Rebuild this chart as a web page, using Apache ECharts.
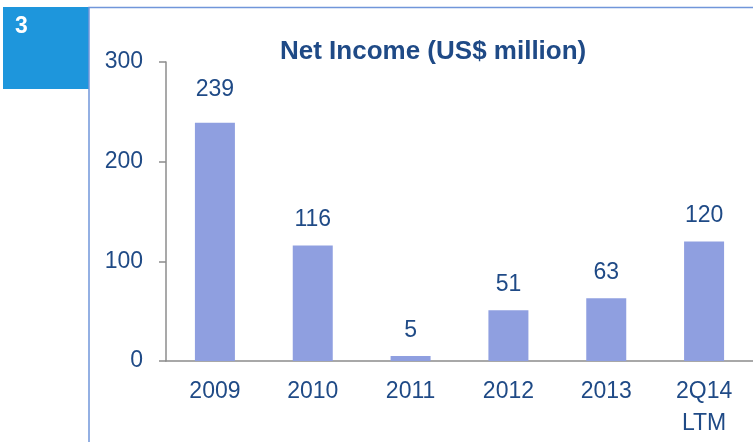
<!DOCTYPE html>
<html>
<head>
<meta charset="utf-8">
<script src="https://cdn.jsdelivr.net/npm/echarts@6/dist/echarts.min.js"></script>
<style>
  html, body { margin: 0; padding: 0; background: #fff; }
  #chart { width: 753px; height: 442px; }
</style>
</head>
<body>
<div id="chart"></div>
<script>
// data
const categories = ['2009', '2010', '2011', '2012', '2013', '2Q14\nLTM']
const netIncome = [239, 116, 5, 51, 63, 120]
const yTicks = [0, 100, 200, 300]

const FONT = '"Liberation Sans", Arial, sans-serif'
const TEXT_COLOR = '#1F4A86'
const AXIS_COLOR = '#8C8C8C'

const chart = echarts.init(document.getElementById('chart'))

chart.setOption({
  animation: false,
  title: {
    text: 'Net Income (US$ million)',
    left: 275,
    top: 34,
    textStyle: {
      fontFamily: FONT,
      fontSize: 26,
      fontWeight: 'bold',
      color: TEXT_COLOR
    }
  },
  // page frame + section number box
  graphic: [
    {
      type: 'rect',
      shape: {x: 3, y: 7, width: 86, height: 82},
      style: {fill: '#1E96DC'}
    },
    {
      type: 'text',
      left: 15,
      top: 15,
      style: {
        text: '3',
        fill: '#fff',
        font: 'bold 23px ' + FONT
      }
    },
    {
      type: 'polyline',
      shape: {points: [[89, 442], [89, 7.5], [753, 7.5]]},
      style: {stroke: '#7196DA', lineWidth: 1.5, fill: null}
    }
  ],
  grid: {
    left: 166,
    right: -8,
    top: 62,
    bottom: 81
  },
  xAxis: {
    type: 'category',
    data: categories,
    axisLine: {lineStyle: {color: AXIS_COLOR, width: 1.5}},
    axisTick: {length: 7, lineStyle: {color: AXIS_COLOR, width: 1.5}},
    axisLabel: {
      margin: 15,
      fontFamily: FONT,
      fontSize: 23,
      lineHeight: 32,
      color: TEXT_COLOR
    }
  },
  yAxis: {
    type: 'value',
    min: yTicks[0],
    max: yTicks[yTicks.length - 1],
    interval: 100,
    splitLine: {show: false},
    axisLine: {show: true, lineStyle: {color: AXIS_COLOR, width: 1.5}},
    axisTick: {show: true, length: 7, lineStyle: {color: AXIS_COLOR, width: 1.5}},
    axisLabel: {
      margin: 23,
      fontFamily: FONT,
      fontSize: 23,
      color: TEXT_COLOR
    }
  },
  series: [
    {
      name: 'Net Income',
      type: 'bar',
      // the tallest bar's label sits a bit higher in the original
      data: netIncome.map((v, i) => i === 0 ? {value: v, label: {distance: 22}} : v),
      barWidth: 40,
      itemStyle: {color: '#8F9FE0'},
      label: {
        show: true,
        position: 'top',
        distance: 14,
        fontFamily: FONT,
        fontSize: 23,
        color: TEXT_COLOR
      }
    }
  ]
})
</script>
</body>
</html>
